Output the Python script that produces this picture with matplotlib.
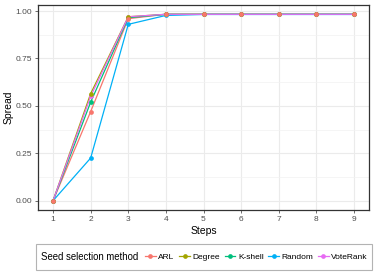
import numpy as np
import matplotlib.pyplot as plt
from matplotlib.lines import Line2D
from matplotlib.patches import Rectangle

plt.rcParams['font.family'] = ['Liberation Sans', 'DejaVu Sans']

steps = [1, 2, 3, 4, 5, 6, 7, 8, 9]
methods = ["ARL", "Degree", "K-shell", "Random", "VoteRank"]
arl = [0.0, 0.47, 0.96, 0.983, 0.983, 0.983, 0.983, 0.983, 0.983]
degree = [0.0, 0.565, 0.97, 0.983, 0.983, 0.983, 0.983, 0.983, 0.983]
kshell = [0.0, 0.52, 0.965, 0.983, 0.983, 0.983, 0.983, 0.983, 0.983]
random_seed = [0.0, 0.225, 0.93, 0.977, 0.982, 0.982, 0.982, 0.982, 0.982]
voterank = [0.0, 0.55, 0.97, 0.983, 0.983, 0.983, 0.983, 0.983, 0.983]
colors = ["#F8766D", "#A3A500", "#00BF7D", "#00B0F6", "#E76BF3"]
yticks = [0.0, 0.25, 0.5, 0.75, 1.0]

series = [arl, degree, kshell, random_seed, voterank]

W, H = 374, 275
fig = plt.figure(figsize=(3.74, 2.75), dpi=100)
ax = fig.add_axes([38 / W, 1 - 210 / H, 331 / W, 205 / H])

for vals, c in zip(series, colors):
    ax.plot(steps, vals, color=c, lw=0.9, zorder=3)
# points drawn in reverse so ARL ends up on top, like the original
for vals, c in reversed(list(zip(series, colors))):
    ax.plot(steps, vals, 'o', color=c, ms=3.4, mec='none', zorder=4)

ax.set_xlim(0.6, 9.4)
ax.set_ylim(-0.049, 1.032)
ax.set_xticks(steps)
ax.set_yticks(yticks)
ax.set_yticklabels([f"{v:.2f}" for v in yticks])
ax.set_yticks([0.125, 0.375, 0.625, 0.875], minor=True)
ax.set_xticks([1.5, 2.5, 3.5, 4.5, 5.5, 6.5, 7.5, 8.5], minor=True)
ax.grid(True, which='major', color='#EBEBEB', lw=0.8, zorder=0)
ax.grid(True, which='minor', axis='y', color='#F2F2F2', lw=0.5, zorder=0)
ax.tick_params(which='minor', length=0)
ax.tick_params(which='major', length=2.5, width=0.5, color='#333333',
               labelsize=6, labelcolor='#4D4D4D', pad=2)
for s in ax.spines.values():
    s.set_color('#333333')
    s.set_linewidth(0.9)
ax.set_xlabel("Steps", fontsize=7.5, labelpad=2)
ax.set_ylabel("Spread", fontsize=7.5)
ax.yaxis.set_label_coords(-(38 - 14) / 331, 0.5)

# legend box with the title inline on the left
fig.patches.append(Rectangle((36 / W, 1 - 270 / H), 336 / W, 26 / H,
                             transform=fig.transFigure, fill=False,
                             edgecolor='#B3B3B3', lw=0.8))
fig.text(41 / W, 1 - 257 / H, "Seed selection method", fontsize=6.9,
         ha='left', va='center')
handles = [Line2D([], [], color=c, lw=0.9, marker='o', ms=3.4, mec='none')
           for c in colors]
fig.legend(handles, methods, ncol=5, loc='center left',
           bbox_to_anchor=(145 / W, 1 - 257 / H), fontsize=6,
           handlelength=1.3, handletextpad=0.3, columnspacing=0.55,
           frameon=False, borderpad=0, borderaxespad=0)

fig.savefig("out.png", dpi=100)
